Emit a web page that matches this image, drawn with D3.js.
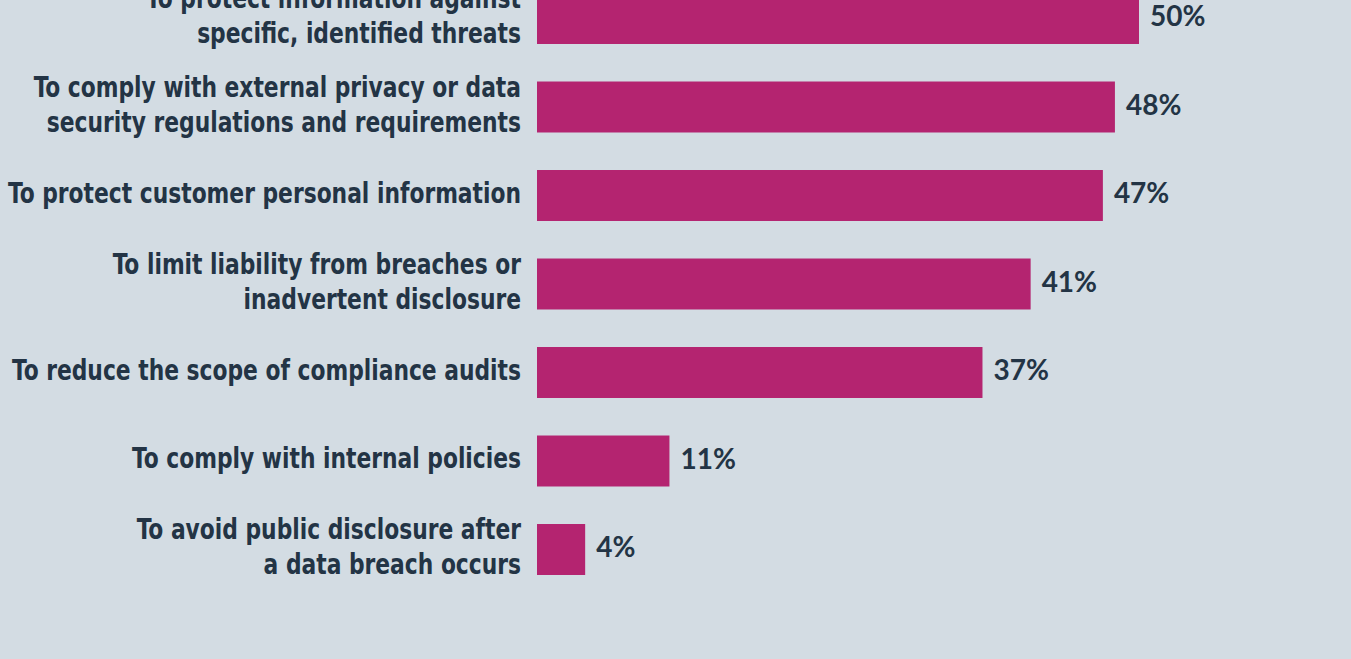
<!DOCTYPE html>
<html>
<head>
<meta charset="utf-8">
<script src="https://cdn.jsdelivr.net/npm/d3@7"></script>
<style>
  html, body { margin: 0; padding: 0; background: #d3dce3; }
  svg { display: block; }
  .label { font-family: "DejaVu Sans Condensed", "DejaVu Sans", sans-serif; font-weight: bold; fill: #233445; }
  .value { font-family: "Lato", sans-serif; font-weight: bold; fill: #233445; }
</style>
</head>
<body>
<svg id="chart"></svg>
<script>
// reasons, top to bottom (first one is cut off by the top edge)
var categories = [
  ["To protect information against", "specific, identified threats"],
  ["To comply with external privacy or data", "security regulations and requirements"],
  ["To protect customer personal information"],
  ["To limit liability from breaches or", "inadvertent disclosure"],
  ["To reduce the scope of compliance audits"],
  ["To comply with internal policies"],
  ["To avoid public disclosure after", "a data breach occurs"]
];
var values = [50, 48, 47, 41, 37, 11, 4];

var W = 1351, H = 659;
var svg = d3.select("#chart").attr("width", W).attr("height", H);
svg.append("rect").attr("width", W).attr("height", H).attr("fill", "#d3dce3");

var keys = categories.map(function(d, i){ return i; });
var x = d3.scaleLinear().domain([0, 50]).range([537, 1139]);
var y = d3.scaleBand().domain(keys).range([-25.75, 593.75]).paddingInner(0.424).paddingOuter(0.212);

svg.selectAll("rect.bar").data(values).enter().append("rect")
  .attr("class", "bar")
  .attr("x", x(0))
  .attr("y", function(d, i){ return y(i); })
  .attr("width", function(d){ return x(d) - x(0); })
  .attr("height", y.bandwidth())
  .attr("fill", "#b42470");

svg.selectAll("text.value").data(values).enter().append("text")
  .attr("class", "value")
  .attr("x", function(d){ return x(d) + 11; })
  .attr("y", function(d, i){ return y(i) + y.bandwidth() / 2 - 2; })
  .attr("dy", "0.35em")
  .attr("font-size", 28)
  .text(function(d){ return d + "%"; });

var lineGap = 35;
var labels = svg.selectAll("text.label").data(categories).enter().append("text")
  .attr("class", "label")
  .attr("text-anchor", "end")
  .attr("font-size", 29);
var lines = labels.selectAll("tspan").data(function(d, i){
    return d.map(function(t, j){ return {t: t, j: j, n: d.length, i: i}; });
  }).enter().append("tspan")
  .attr("x", 521)
  .attr("y", function(d){
    var mid = y(d.i) + y.bandwidth() / 2 + (d.j - (d.n - 1) / 2) * lineGap;
    return mid + 7;
  })
  .text(function(d){ return d.t; });

// narrow the glyphs to the width of the reference's condensed face
var ref = lines.filter(function(d){ return d.i === 2; }).node();
var k = 513 / ref.getComputedTextLength();
lines.each(function(){
  var w = this.getComputedTextLength();
  d3.select(this).attr("textLength", w * k).attr("lengthAdjust", "spacingAndGlyphs");
});
</script>
</body>
</html>
